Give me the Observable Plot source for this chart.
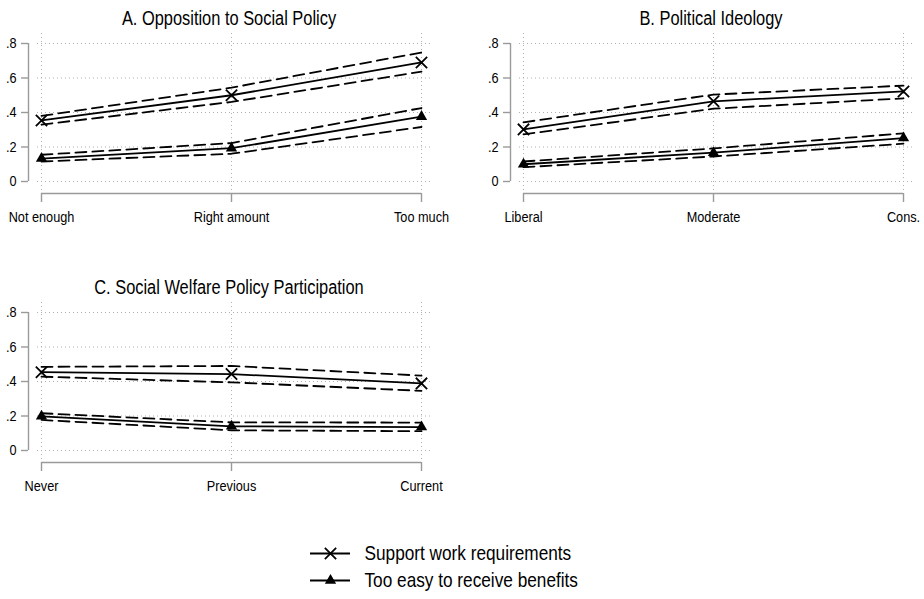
<!DOCTYPE html>
<html>
<head>
<meta charset="utf-8">
<script src="https://cdn.jsdelivr.net/npm/d3@7"></script>
<script src="https://cdn.jsdelivr.net/npm/@observablehq/plot@0.6"></script>
<style>
  html, body { margin: 0; padding: 0; background: #fff; }
  #root { position: relative; width: 924px; height: 599px; background: #fff; overflow: hidden;
          font-family: "Liberation Sans", Arial, Helvetica, sans-serif; color: #000; }
  .title { position: absolute; width: 442px; text-align: center; font-size: 20px; line-height: 24px; white-space: nowrap;
           transform: scaleX(0.82); transform-origin: 50% 50%; }
  .panel, .legend { position: absolute; }
</style>
</head>
<body>
<div id="root"></div>
<script>
const FONT = '"Liberation Sans", Arial, Helvetica, sans-serif';
const NARROW = 0.82; // horizontal text compression to mimic a narrow Helvetica

// Y-axis ticks (shared)
const yTicks = [0, 0.2, 0.4, 0.6, 0.8];

// Panel titles
const titles = ["A. Opposition to Social Policy", "B. Political Ideology", "C. Social Welfare Policy Participation"];

// Panel A
const catsA = ["Not enough", "Right amount", "Too much"];
const supportA = [0.354, 0.500, 0.690];
const supportA_lo = [0.330, 0.461, 0.637];
const supportA_hi = [0.380, 0.544, 0.748];
const easyA = [0.133, 0.193, 0.376];
const easyA_lo = [0.116, 0.161, 0.316];
const easyA_hi = [0.155, 0.223, 0.426];

// Panel B
const catsB = ["Liberal", "Moderate", "Cons."];
const supportB = [0.302, 0.465, 0.522];
const supportB_lo = [0.273, 0.422, 0.482];
const supportB_hi = [0.343, 0.504, 0.556];
const easyB = [0.100, 0.167, 0.252];
const easyB_lo = [0.083, 0.145, 0.219];
const easyB_hi = [0.116, 0.192, 0.279];

// Panel C
const catsC = ["Never", "Previous", "Current"];
const supportC = [0.454, 0.443, 0.389];
const supportC_lo = [0.428, 0.395, 0.346];
const supportC_hi = [0.485, 0.490, 0.434];
const easyC = [0.198, 0.140, 0.136];
const easyC_lo = [0.177, 0.117, 0.112];
const easyC_hi = [0.216, 0.163, 0.162];

// Legend
const legendLabels = ["Support work requirements", "Too easy to receive benefits"];
const legendSymbols = ["times", "triangle2"];

function rows(cats, v, lo, hi) {
  return cats.map((c, i) => ({cat: c, v: v[i], lo: lo[i], hi: hi[i]}));
}

const fmt = d => d === 0 ? "0" : d3.format(".1f")(d).replace(/^0/, "");
const AXIS = "#9a9a9a", GRID = "#b0b0b0";
const LW = 1.8, DASH = "11,6", R_TIMES = 5.2, R_TRI = 5.4;

function panel(cats, sup, easy) {
  const series = [[sup, "times"], [easy, "triangle2"]];
  const marks = [
    Plot.gridY(yTicks, {stroke: GRID, strokeOpacity: 1, strokeDasharray: "1,3"}),
    Plot.gridX(cats, {stroke: GRID, strokeOpacity: 1, strokeDasharray: "1,3"}),
    Plot.ruleX([cats[0]], {y1: 0, y2: 0.8, dx: -13, stroke: AXIS, strokeWidth: 1.4}),
    Plot.axisY(yTicks, {tickSize: 7, tickPadding: 5, dx: -9, stroke: AXIS, fill: "black", tickFormat: fmt, label: null, strokeWidth: 1.4}),
    Plot.ruleY([0], {x1: () => cats[0], x2: () => cats[cats.length - 1], dy: 12, stroke: AXIS, strokeWidth: 1.4}),
    Plot.axisX(cats, {tickSize: 9, tickPadding: 8, dy: 2, stroke: AXIS, fill: "black", label: null, strokeWidth: 1.4})
  ];
  for (const [data, sym] of series) {
    marks.push(
      Plot.line(data, {x: "cat", y: "hi", stroke: "black", strokeWidth: LW, strokeDasharray: DASH}),
      Plot.line(data, {x: "cat", y: "lo", stroke: "black", strokeWidth: LW, strokeDasharray: DASH}),
      Plot.line(data, {x: "cat", y: "v", stroke: "black", strokeWidth: LW}),
      sym === "times"
        ? Plot.dot(data, {x: "cat", y: "v", symbol: sym, r: R_TIMES, stroke: "black", strokeWidth: LW})
        : Plot.dot(data, {x: "cat", y: "v", symbol: sym, r: R_TRI, fill: "black", stroke: "none"})
    );
  }
  return Plot.plot({
    width: 442, height: 200,
    marginLeft: 37, marginRight: 9, marginTop: 3, marginBottom: 39,
    style: {fontFamily: FONT, fontSize: "15.5px", background: "transparent", color: "black", overflow: "visible"},
    x: {type: "point", domain: cats, range: [41, 421], padding: 0},
    y: {domain: [0, 0.8], range: [151, 13]},
    marks
  });
}

const root = document.getElementById("root");
const layout = [
  {left: 0, top: 0, cats: catsA, sup: rows(catsA, supportA, supportA_lo, supportA_hi), easy: rows(catsA, easyA, easyA_lo, easyA_hi)},
  {left: 482, top: 0, cats: catsB, sup: rows(catsB, supportB, supportB_lo, supportB_hi), easy: rows(catsB, easyB, easyB_lo, easyB_hi)},
  {left: 0, top: 269, cats: catsC, sup: rows(catsC, supportC, supportC_lo, supportC_hi), easy: rows(catsC, easyC, easyC_lo, easyC_hi)}
];
layout.forEach((p, i) => {
  const t = document.createElement("div");
  t.className = "title";
  t.style.left = (p.left + 8) + "px";
  t.style.top = (p.top + 6) + "px";
  t.textContent = titles[i];
  root.appendChild(t);
  const svg = panel(p.cats, p.sup, p.easy);
  const wrap = document.createElement("div");
  wrap.className = "panel";
  wrap.style.left = p.left + "px";
  wrap.style.top = (p.top + 30) + "px";
  wrap.appendChild(svg);
  root.appendChild(wrap);
});

// Legend
const legendData = legendLabels.map((l, i) => ({label: l, symbol: legendSymbols[i]}));
const legend = Plot.plot({
  width: 330, height: 58, margin: 0,
  style: {fontFamily: FONT, fontSize: "21px", background: "transparent", color: "black", overflow: "visible"},
  x: {domain: [0, 330], range: [0, 330]},
  y: {type: "point", domain: legendLabels, range: [14, 41], padding: 0},
  axis: null,
  marks: [
    Plot.ruleY(legendData, {y: "label", x1: 10, x2: 50, stroke: "black", strokeWidth: LW}),
    Plot.dot(legendData.filter(d => d.symbol === "times"), {x: 30, y: "label", symbol: "symbol", r: R_TIMES, stroke: "black", strokeWidth: LW}),
    Plot.dot(legendData.filter(d => d.symbol !== "times"), {x: 30, y: "label", symbol: "symbol", r: R_TRI, fill: "black", stroke: "none"}),
    Plot.text(legendData, {x: 64, y: "label", text: "label", textAnchor: "start", fill: "black"})
  ]
});
const lw = document.createElement("div");
lw.className = "legend";
lw.style.left = "300px";
lw.style.top = "539px";
lw.appendChild(legend);
root.appendChild(lw);

// Narrow the SVG texts horizontally (Helvetica Narrow look), keeping their anchors
root.querySelectorAll("svg text").forEach(el => {
  const w = el.getComputedTextLength();
  if (w > 0) {
    el.setAttribute("textLength", (w * NARROW).toFixed(2));
    el.setAttribute("lengthAdjust", "spacingAndGlyphs");
  }
});
</script>
</body>
</html>
